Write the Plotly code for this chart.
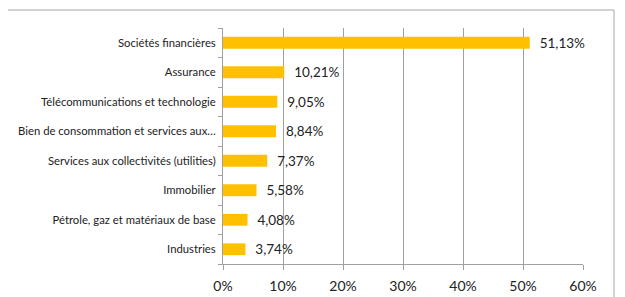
import plotly.graph_objects as go

categories = [
    "Sociétés financières",
    "Assurance",
    "Télécommunications et technologie",
    "Bien de consommation et services aux…",
    "Services aux collectivités (utilities)",
    "Immobilier",
    "Pétrole, gaz et matériaux de base",
    "Industries",
]
values = [51.13, 10.21, 9.05, 8.84, 7.37, 5.58, 4.08, 3.74]
x_ticks = [0, 10, 20, 30, 40, 50, 60]
x_tick_labels = ["0%", "10%", "20%", "30%", "40%", "50%", "60%"]

labels = ["\u00a0\u00a0" + f"{v:.2f}".replace(".", ",") + "%" for v in values]

fig = go.Figure(
    go.Bar(
        y=categories,
        x=values,
        orientation="h",
        marker=dict(color="#FFC000", line=dict(width=0)),
        width=0.4,
        text=labels,
        textposition="outside",
        constraintext="none",
        textfont=dict(family="Lato", size=13.5, color="#222222"),
        cliponaxis=False,
    )
)

# page has an 8px body margin; figure sits at (8, 8)
OFF = 8
W, H = 625 - OFF, 297 - OFF
ml, mr, mt, mb = 223 - OFF, 42, 28 - OFF, 33
pw = W - ml - mr
ph = H - mt - mb


def px_x(px):
    return (px - OFF - ml) / pw


def px_y(py):
    return (H - mb - (py - OFF)) / ph


fig.update_layout(
    width=W,
    height=H,
    margin=dict(l=ml, r=mr, t=mt, b=mb, autoexpand=False),
    paper_bgcolor="white",
    plot_bgcolor="white",
    showlegend=False,
    font=dict(family="Lato", color="#222222"),
    shapes=[
        dict(
            type="rect",
            xref="paper",
            yref="paper",
            x0=px_x(6),
            x1=px_x(614),
            y0=px_y(10),
            y1=px_y(340),
            line=dict(color="#a6a6a6", width=1),
            fillcolor="rgba(0,0,0,0)",
            layer="below",
        )
    ],
)

fig.update_xaxes(
    range=[0, 60],
    tickvals=x_ticks,
    ticktext=x_tick_labels,
    showgrid=True,
    gridcolor="#a0a0a0",
    gridwidth=1,
    showline=True,
    linecolor="#a0a0a0",
    ticks="outside",
    ticklen=5,
    tickcolor="#a0a0a0",
    ticklabelstandoff=4,
    tickfont=dict(family="Lato", size=14, color="#222222"),
    zeroline=False,
    automargin=False,
    fixedrange=True,
)
fig.update_yaxes(
    categoryorder="array",
    categoryarray=categories[::-1],
    autorange=False,
    range=[-0.5, len(categories) - 0.5],
    showline=True,
    linecolor="#a0a0a0",
    ticks="outside",
    ticklen=4,
    tickcolor="#a0a0a0",
    tickson="boundaries",
    ticklabelstandoff=4,
    tickfont=dict(family="Lato", size=11.3, color="#222222"),
    showgrid=False,
    automargin=False,
    fixedrange=True,
)

fig.write_html("out.html")
